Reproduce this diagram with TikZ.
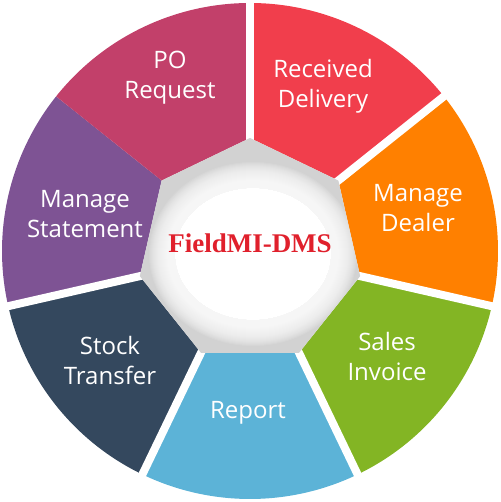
\documentclass[tikz,border=0pt]{standalone}
\usepackage{fontspec}
\setmainfont{Open Sans}
\newfontfamily\hubfont{Liberation Serif}

\definecolor{deliveryRed}{HTML}{F13E4C}
\definecolor{dealerOrange}{HTML}{FF8000}
\definecolor{invoiceGreen}{HTML}{83B524}
\definecolor{reportBlue}{HTML}{5CB3D7}
\definecolor{stockSlate}{HTML}{34485E}
\definecolor{statementPurple}{HTML}{7E5394}
\definecolor{poPink}{HTML}{C2406A}
\definecolor{hubRed}{HTML}{E0202C}
\definecolor{hubGrey}{HTML}{D2D2D2}

\begin{document}
\begin{tikzpicture} [
    x=1pt, y=1pt,
    gap_line/.style={draw=white, line width=8pt},
    label_text/.style={text=white, align=center, font=\fontsize{24}{30}\selectfont},
    hub_text/.style={text=hubRed, font=\hubfont\bfseries\fontsize{27}{30}\selectfont}
]
    \useasboundingbox (-250,-251) rectangle (250,251);

    % Segments
    \foreach \a/\col in {90/deliveryRed, 38.571/dealerOrange, -12.857/invoiceGreen, -64.286/reportBlue, -115.714/stockSlate, -167.143/statementPurple, -218.571/poPink} {
        \pgfmathsetmacro{\b}{\a-51.429}
        \fill[\col] (\a:113) -- (\a:248) arc[start angle=\a, end angle=\b, radius=248] -- (\b:113) -- cycle;
    }

    % Gaps
    \foreach \a in {90, 38.571, ..., -218.571}
        \draw[gap_line] (\a:108) -- (\a:256);

    % Hub: grey heptagon with a soft white middle
    \begin{scope}
        \clip (90:113) \foreach \i in {1,...,6} { -- (90-\i*51.429:113) } -- cycle;
        \fill[hubGrey] (0,0) circle (120);
        \fill[white] (3,-3) ellipse[x radius=78, y radius=66];
        \foreach \r in {1,...,26}
            \fill[white, opacity=0.1] (3,-3) ellipse[x radius=78+\r, y radius=66+\r];
    \end{scope}

    % Nodes
    \node[hub_text] (hub) at (0,8) {FieldMI-DMS};
    \node[label_text] (received_delivery) at (73,165) {Received\\Delivery};
    \node[label_text] (manage_dealer) at (168,43) {Manage\\Dealer};
    \node[label_text] (sales_invoice) at (137,-106) {Sales\\Invoice};
    \node[label_text] (report) at (-2,-162) {Report};
    \node[label_text] (stock_transfer) at (-140,-110) {Stock\\Transfer};
    \node[label_text] (manage_statement) at (-165,37) {Manage\\Statement};
    \node[label_text] (po_request) at (-80,173) {PO\\Request};

\end{tikzpicture}
\end{document}
